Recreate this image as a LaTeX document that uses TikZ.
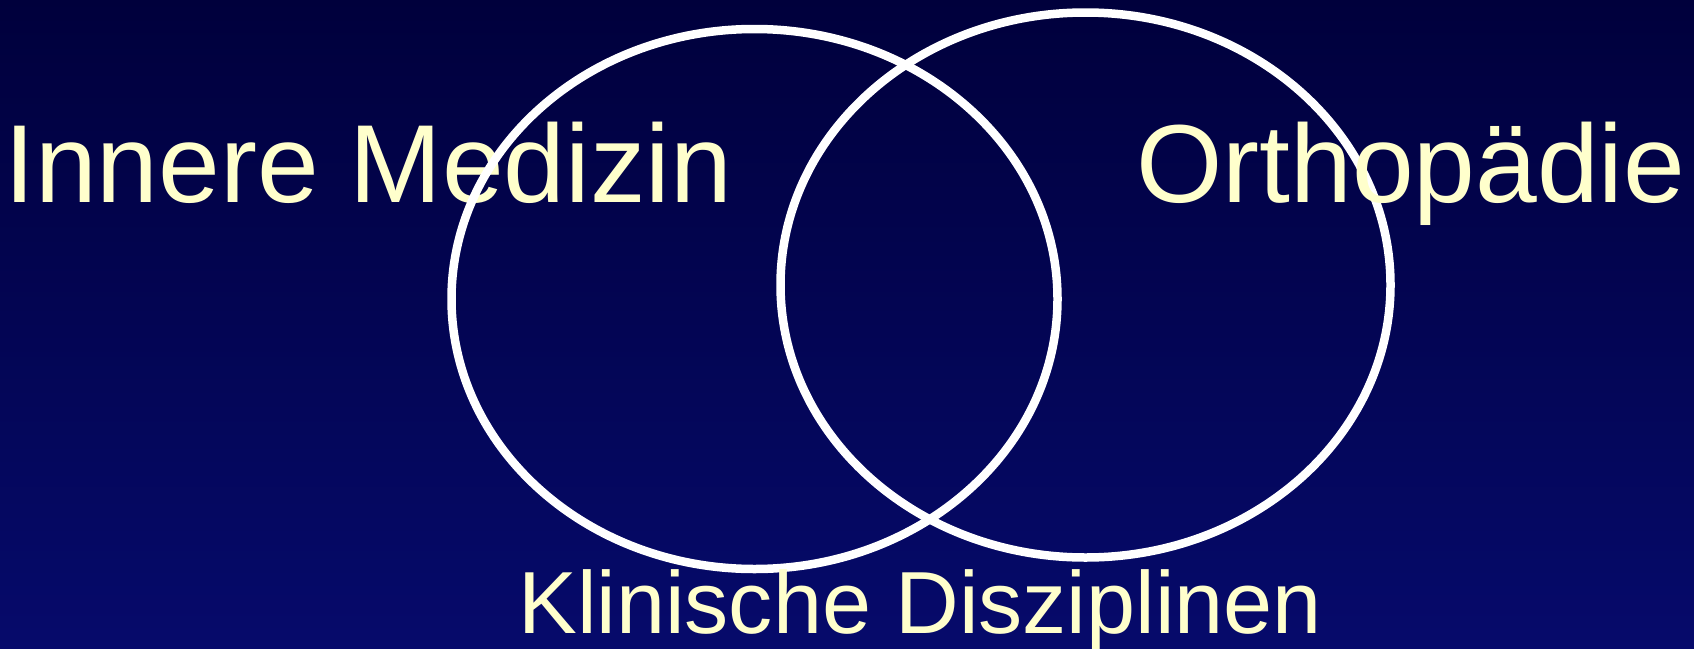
\documentclass[tikz,border=0pt]{standalone}
\usepackage{fontspec}
\setmainfont{Liberation Sans}
\usepackage{xcolor}
\usepackage{tikz}
\definecolor{bgtop}{HTML}{00003C}
\definecolor{bgbot}{HTML}{060A6B}
\definecolor{paleyellow}{HTML}{FFFFCC}

\begin{document}
\begin{tikzpicture}[x=1pt, y=-1pt,
    big/.style={anchor=base west, inner sep=0pt, text=paleyellow,
                font=\fontsize{111}{133}\selectfont},
    small/.style={anchor=base west, inner sep=0pt, text=paleyellow,
                  font=\fontsize{88.2}{106}\selectfont},
    ring/.style={draw=white, line width=8.5pt},
  ]
    % background
    \shade[top color=bgtop, bottom color=bgbot] (0,0) rectangle (1694,648);
    \useasboundingbox (0,0) rectangle (1694,648);

    \node[big] (inner) at (4,202) {Innere Medizin};

    % the two circles
    \draw[ring] (754.5,299) ellipse [x radius=303, y radius=270];
    \draw[ring] (1085.5,285) ellipse [x radius=305, y radius=272.5];

    \node[big] (ortho) at (1136,202) {Orthopädie};
    \node[small] (klin) at (518,633) {Klinische Disziplinen};
  \end{tikzpicture}
\end{document}
